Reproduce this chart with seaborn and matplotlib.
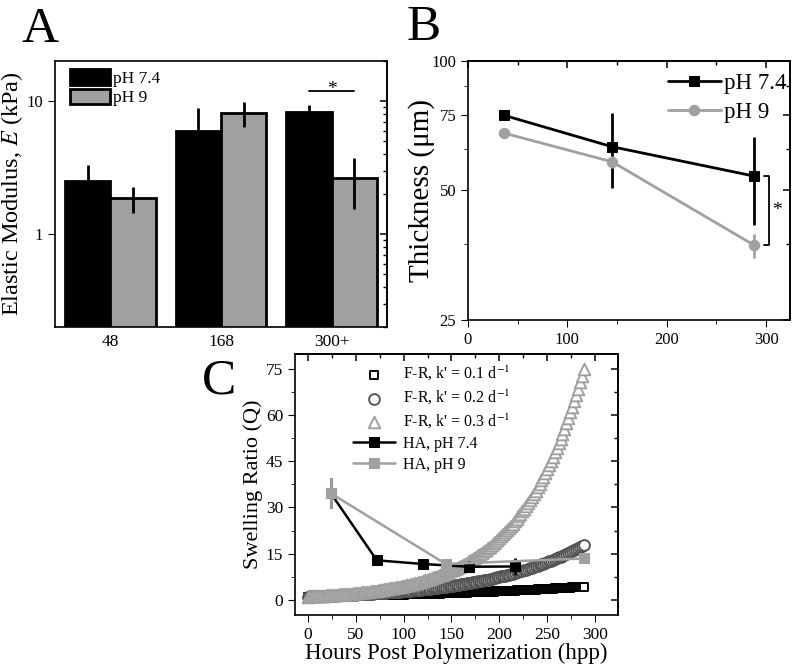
import numpy as np
import pandas as pd
import matplotlib
matplotlib.use('Agg')
import matplotlib.pyplot as plt
from matplotlib.ticker import (FixedLocator, FixedFormatter, MultipleLocator,
                               LogLocator, NullFormatter, NullLocator)
import seaborn as sns

sns.set_style('ticks')
plt.rcParams['font.family'] = ['Liberation Serif', 'DejaVu Serif']
plt.rcParams['mathtext.fontset'] = 'stix'
plt.rcParams['axes.linewidth'] = 1.2
plt.rcParams['axes.edgecolor'] = 'black'
plt.rcParams['axes.labelcolor'] = 'black'
plt.rcParams['text.color'] = 'black'
plt.rcParams['xtick.color'] = 'black'
plt.rcParams['ytick.color'] = 'black'

# ---- Panel A: elastic modulus (kPa) ----
age_groups = ['48', '168', '300+']
modulus_ph74 = [2.5, 6.0, 8.3]
modulus_ph74_err = [0.8, 2.8, 1.1]
modulus_ph9 = [1.85, 8.1, 2.65]
modulus_ph9_err = [0.42, 1.7, 1.1]

# ---- Panel B: thickness (um) ----
thick_hours_ph74 = [36, 145, 288]
thick_ph74 = [74.8, 63.2, 54.0]
thick_ph74_err = [1.2, 12.5, 12.5]
thick_hours_ph9 = [36, 145, 288]
thick_ph9 = [68.0, 58.3, 37.3]
thick_ph9_err = [1.8, 2.0, 2.4]

# ---- Panel C: swelling ratio ----
swell_hours_ph74 = [24, 72, 120, 168, 216]
swell_ph74 = [34.6, 12.8, 11.6, 10.7, 10.8]
swell_ph74_err = [4.9, 0.6, 0.6, 1.8, 2.8]
swell_hours_ph9 = [24, 144, 288]
swell_ph9 = [34.6, 11.6, 13.4]
swell_ph9_err = [4.9, 1.2, 0.5]

# Flory-Rehner model curves, one value every 2 h
model_hours = list(range(0, 289, 2))
fr_k01 = [1.00, 1.01, 1.02, 1.03, 1.04, 1.05, 1.06, 1.07, 1.08, 1.09,
          1.11, 1.12, 1.13, 1.14, 1.15, 1.16, 1.17, 1.19, 1.20, 1.21,
          1.22, 1.23, 1.25, 1.26, 1.27, 1.28, 1.30, 1.31, 1.32, 1.34,
          1.35, 1.36, 1.38, 1.39, 1.40, 1.42, 1.43, 1.45, 1.46, 1.48,
          1.49, 1.51, 1.52, 1.54, 1.55, 1.57, 1.58, 1.60, 1.62, 1.63,
          1.65, 1.67, 1.68, 1.70, 1.72, 1.73, 1.75, 1.77, 1.79, 1.80,
          1.82, 1.84, 1.86, 1.88, 1.90, 1.92, 1.93, 1.95, 1.97, 1.99,
          2.01, 2.03, 2.05, 2.08, 2.10, 2.12, 2.14, 2.16, 2.18, 2.20,
          2.23, 2.25, 2.27, 2.29, 2.32, 2.34, 2.36, 2.39, 2.41, 2.44,
          2.46, 2.48, 2.51, 2.53, 2.56, 2.59, 2.61, 2.64, 2.66, 2.69,
          2.72, 2.75, 2.77, 2.80, 2.83, 2.86, 2.89, 2.92, 2.94, 2.97,
          3.00, 3.03, 3.06, 3.10, 3.13, 3.16, 3.19, 3.22, 3.25, 3.29,
          3.32, 3.35, 3.39, 3.42, 3.46, 3.49, 3.53, 3.56, 3.60, 3.63,
          3.67, 3.71, 3.74, 3.78, 3.82, 3.86, 3.90, 3.94, 3.97, 4.01,
          4.06, 4.10, 4.14, 4.18, 4.22]
fr_k02 = [1.00, 1.02, 1.04, 1.06, 1.08, 1.11, 1.13, 1.15, 1.17, 1.20,
          1.22, 1.25, 1.27, 1.30, 1.32, 1.35, 1.38, 1.40, 1.43, 1.46,
          1.49, 1.52, 1.55, 1.58, 1.62, 1.65, 1.68, 1.72, 1.75, 1.79,
          1.82, 1.86, 1.90, 1.93, 1.97, 2.01, 2.05, 2.10, 2.14, 2.18,
          2.23, 2.27, 2.32, 2.36, 2.41, 2.46, 2.51, 2.56, 2.61, 2.66,
          2.72, 2.77, 2.83, 2.89, 2.94, 3.00, 3.06, 3.13, 3.19, 3.25,
          3.32, 3.39, 3.46, 3.53, 3.60, 3.67, 3.74, 3.82, 3.90, 3.97,
          4.06, 4.14, 4.22,
          4.31, 4.39, 4.48, 4.57, 4.66, 4.76, 4.86, 4.95, 5.05, 5.16,
          5.26, 5.37, 5.47, 5.59, 5.70, 5.81, 5.93, 6.05, 6.17, 6.30,
          6.42, 6.55, 6.69, 6.82, 6.96, 7.10, 7.24, 7.39, 7.54, 7.69,
          7.85, 8.00, 8.17, 8.33, 8.50, 8.67, 8.85, 9.03, 9.21, 9.39,
          9.58, 9.78, 9.97, 10.18, 10.38, 10.59, 10.80, 11.02, 11.25, 11.47,
          11.71, 11.94, 12.18, 12.43, 12.68, 12.94, 13.20, 13.46, 13.74, 14.01,
          14.30, 14.59, 14.88, 15.18, 15.49, 15.80, 16.12, 16.44, 16.78, 17.12,
          17.46, 17.81]
fr_k03 = [1.00, 1.03, 1.06, 1.09, 1.13, 1.16, 1.20, 1.23, 1.27, 1.31,
          1.35, 1.39, 1.43, 1.48, 1.52, 1.57, 1.62, 1.67, 1.72, 1.77,
          1.82, 1.88, 1.93, 1.99, 2.05, 2.12, 2.18, 2.25, 2.32, 2.39,
          2.46, 2.53, 2.61, 2.69, 2.77, 2.86, 2.94, 3.03, 3.13, 3.22,
          3.32, 3.42, 3.53, 3.63, 3.74, 3.86, 3.97, 4.10, 4.22, 4.35,
          4.48, 4.62, 4.76, 4.90, 5.05, 5.21, 5.37, 5.53, 5.70, 5.87,
          6.05, 6.23, 6.42, 6.62, 6.82, 7.03, 7.24, 7.46, 7.69, 7.92,
          8.17, 8.41, 8.67, 8.94, 9.21, 9.49, 9.78, 10.07, 10.38, 10.70,
          11.02, 11.36, 11.70, 12.06, 12.43, 12.81, 13.20, 13.60, 14.01, 14.44,
          14.88, 15.33, 15.80, 16.28, 16.78, 17.29, 17.81, 18.36, 18.92, 19.49,
          20.09, 20.70, 21.33, 21.98, 22.65, 23.34, 24.05, 24.78, 25.53, 26.31,
          27.11, 27.94, 28.79, 29.67, 30.57, 31.50, 32.46, 33.45, 34.47, 35.52,
          36.60, 37.71, 38.86, 40.04, 41.26, 42.52, 43.82, 45.15, 46.53, 47.94,
          49.40, 50.91, 52.46, 54.05, 55.70, 57.40, 59.15, 60.95, 62.80, 64.72,
          66.69, 68.72, 70.81, 72.97, 75.19]

BLACK = 'black'
GREY = '#a0a0a0'
DARK = '#555555'


def mirror(ax, ymaj, ymin, xmaj=None, xmin=None):
    sy = ax.secondary_yaxis('right')
    sy.yaxis.set_major_locator(ymaj)
    sy.yaxis.set_minor_locator(ymin)
    sy.yaxis.set_major_formatter(NullFormatter())
    sy.yaxis.set_minor_formatter(NullFormatter())
    sy.tick_params(which='major', direction='in', length=5, width=1.1)
    sy.tick_params(which='minor', direction='in', length=3, width=1.0)
    if xmaj is not None:
        sx = ax.secondary_xaxis('top')
        sx.xaxis.set_major_locator(xmaj)
        sx.xaxis.set_minor_locator(xmin)
        sx.xaxis.set_major_formatter(NullFormatter())
        sx.xaxis.set_minor_formatter(NullFormatter())
        sx.tick_params(which='major', direction='in', length=5, width=1.1)
        sx.tick_params(which='minor', direction='in', length=3, width=1.0)


fig = plt.figure(figsize=(8, 6.71), dpi=100)
axA = fig.add_axes([0.06875, 0.5127, 0.415, 0.3964])
axB = fig.add_axes([0.585, 0.5231, 0.4025, 0.386])
axC = fig.add_axes([0.36875, 0.0835, 0.40375, 0.389])

# ---------------- Panel A ----------------
df_a = pd.DataFrame({'age': age_groups * 2,
                     'group': ['pH 7.4'] * 3 + ['pH 9'] * 3,
                     'E': modulus_ph74 + modulus_ph9})
sns.barplot(data=df_a, x='age', y='E', hue='group', palette=[BLACK, GREY],
            edgecolor='black', linewidth=2, width=0.82, errorbar=None, ax=axA)
axA.set_yscale('log')
for bars, vals, errs in zip(axA.containers, [modulus_ph74, modulus_ph9],
                            [modulus_ph74_err, modulus_ph9_err]):
    xs = [b.get_x() + b.get_width() / 2 for b in bars]
    axA.errorbar(xs, vals, yerr=errs, fmt='none', ecolor='black',
                 elinewidth=2, capsize=0, zorder=3)

# significance line over the 300+ group
b0 = axA.containers[0][2]
b1 = axA.containers[1][2]
x0 = b0.get_x() + b0.get_width() / 2
x1 = b1.get_x() + b1.get_width() / 2
axA.plot([x0, x1], [11.9, 11.9], color='black', lw=1.3)
axA.text((x0 + x1) / 2, 11.2, '*', ha='center', va='baseline', fontsize=14)

axA.set_xlim(-0.5, 2.5)
axA.set_ylim(0.2, 20)
axA.set_xlabel('')
axA.set_ylabel('Elastic Modulus, $E$ (kPa)', fontsize=17.5)
axA.yaxis.set_label_coords(-0.09, 0.5)
axA.yaxis.set_major_locator(FixedLocator([1, 10]))
axA.yaxis.set_major_formatter(FixedFormatter(['1', '10']))
axA.yaxis.set_minor_locator(NullLocator())
axA.tick_params(axis='y', which='major', direction='out', length=5, labelsize=12)
axA.tick_params(axis='x', length=0, labelsize=12.5, pad=5)
mirror(axA, FixedLocator([1, 10]), LogLocator(base=10, subs=np.arange(2, 10)))

handlesA = axA.get_legend().legend_handles
for h in handlesA:
    h.set_edgecolor('black')
    h.set_linewidth(2)
axA.legend(handlesA, ['pH 7.4', 'pH 9'], loc='upper left',
           bbox_to_anchor=(0.045, 0.97), frameon=False, fontsize=12.5,
           handlelength=2.3, handleheight=1.0, labelspacing=0.12,
           handletextpad=0.2, borderaxespad=0, borderpad=0)

# ---------------- Panel B ----------------
sns.lineplot(x=thick_hours_ph74, y=thick_ph74, color=BLACK, marker='s',
             markersize=7, markeredgecolor=BLACK, linewidth=2,
             label='pH 7.4', ax=axB)
axB.errorbar(thick_hours_ph74, thick_ph74, yerr=thick_ph74_err, fmt='none',
             ecolor=BLACK, elinewidth=2, capsize=0)
sns.lineplot(x=thick_hours_ph9, y=thick_ph9, color=GREY, marker='o',
             markersize=7.5, markeredgecolor=GREY, linewidth=2,
             label='pH 9', ax=axB)
axB.errorbar(thick_hours_ph9, thick_ph9, yerr=thick_ph9_err, fmt='none',
             ecolor=GREY, elinewidth=2, capsize=0)
axB.set_yscale('log')

# significance bracket between last points
xb = thick_hours_ph74[-1] + 15
axB.plot([xb - 5, xb, xb, xb - 5],
         [thick_ph74[-1], thick_ph74[-1], thick_ph9[-1], thick_ph9[-1]],
         color='black', lw=1.3)
axB.text(xb + 3, np.sqrt(thick_ph74[-1] * thick_ph9[-1]), '*',
         ha='left', va='center', fontsize=14)

axB.set_xlim(0, 324)
axB.set_ylim(25, 100)
axB.set_xlabel('')
axB.set_ylabel('Thickness (μm)', fontsize=21)
axB.yaxis.set_label_coords(-0.102, 0.5)
axB.yaxis.set_major_locator(FixedLocator([25, 50, 75, 100]))
axB.yaxis.set_major_formatter(FixedFormatter(['25', '50', '75', '100']))
axB.yaxis.set_minor_locator(FixedLocator([37.5, 62.5, 87.5]))
axB.yaxis.set_minor_formatter(NullFormatter())
axB.xaxis.set_major_locator(MultipleLocator(100))
axB.xaxis.set_minor_locator(MultipleLocator(50))
axB.tick_params(which='major', direction='out', length=5, labelsize=12)
axB.tick_params(which='minor', direction='out', length=3)
mirror(axB, FixedLocator([25, 50, 75, 100]), FixedLocator([37.5, 62.5, 87.5]),
       MultipleLocator(100), MultipleLocator(50))
axB.legend(loc='upper right', bbox_to_anchor=(0.99, 0.955), frameon=False,
           fontsize=16.5, handlelength=2.3, handletextpad=0.15,
           borderaxespad=0, borderpad=0, labelspacing=0.35)

# ---------------- Panel C ----------------
sns.scatterplot(x=model_hours, y=fr_k01, marker='s', s=36, color='white',
                edgecolor=BLACK, linewidth=1.4, ax=axC, zorder=2)
sns.scatterplot(x=model_hours, y=fr_k02, marker='o', s=60, color='white',
                edgecolor=DARK, linewidth=1.4, ax=axC, zorder=2)
sns.scatterplot(x=model_hours, y=fr_k03, marker='^', s=70, color='white',
                edgecolor=GREY, linewidth=1.4, ax=axC, zorder=2)
model_handles = list(axC.collections[:3])

sns.lineplot(x=swell_hours_ph74, y=swell_ph74, color=BLACK, marker='s',
             markersize=7, markeredgecolor=BLACK, linewidth=1.8, ax=axC,
             zorder=4)
sns.lineplot(x=swell_hours_ph9, y=swell_ph9, color=GREY, marker='s',
             markersize=7, markeredgecolor=GREY, linewidth=1.8, ax=axC,
             zorder=5)
line_handles = list(axC.lines[:2])
axC.errorbar(swell_hours_ph74, swell_ph74, yerr=swell_ph74_err, fmt='none',
             ecolor=BLACK, elinewidth=2, capsize=0, zorder=4)
axC.errorbar(swell_hours_ph9, swell_ph9, yerr=swell_ph9_err, fmt='none',
             ecolor=GREY, elinewidth=2, capsize=0, zorder=5)

axC.set_xlim(-13.5, 324)
axC.set_ylim(-5, 80)
axC.set_xlabel('Hours Post Polymerization (hpp)', fontsize=16.5, labelpad=0)
axC.set_ylabel('Swelling Ratio (Q)', fontsize=16)
axC.yaxis.set_label_coords(-0.1, 0.5)
axC.xaxis.set_major_locator(MultipleLocator(50))
axC.xaxis.set_minor_locator(MultipleLocator(25))
axC.yaxis.set_major_locator(MultipleLocator(15))
axC.yaxis.set_minor_locator(MultipleLocator(7.5))
axC.tick_params(which='major', direction='out', length=5, labelsize=12.5)
axC.tick_params(which='minor', direction='out', length=3)
mirror(axC, MultipleLocator(15), MultipleLocator(7.5),
       MultipleLocator(50), MultipleLocator(25))

labelsC = ["F-R, k' = 0.1 d$^{-1}$", "F-R, k' = 0.2 d$^{-1}$",
           "F-R, k' = 0.3 d$^{-1}$", 'HA, pH 7.4', 'HA, pH 9']
axC.legend(model_handles + line_handles, labelsC, loc='upper left',
           bbox_to_anchor=(0.18, 0.96), frameon=False, fontsize=11.5,
           handlelength=2.6, handletextpad=0.5, labelspacing=0.3,
           borderaxespad=0, borderpad=0, scatterpoints=1)

# panel letters
fig.text(22 / 800, 1 - 42 / 671, 'A', fontsize=37, ha='left', va='baseline')
fig.text(407 / 800, 1 - 40 / 671, 'B', fontsize=37, ha='left', va='baseline')
fig.text(202 / 800, 1 - 393 / 671, 'C', fontsize=37, ha='left', va='baseline')

fig.savefig('out.png', dpi=100)
